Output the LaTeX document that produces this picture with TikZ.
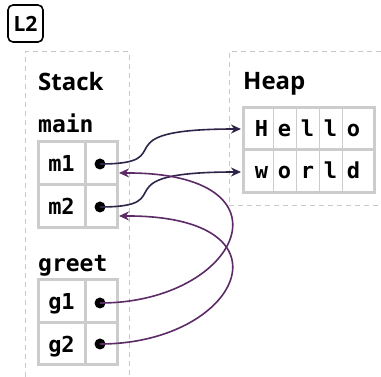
\documentclass[tikz,border=0pt]{standalone}
\usepackage{fontspec}
\setmainfont{Open Sans}
\newfontfamily\codefont{DejaVu Sans Mono Bold}
\usetikzlibrary{arrows.meta}
\definecolor{framec}{HTML}{C8C8C8}
\definecolor{cellb}{HTML}{CCCCCC}
\definecolor{arrA}{HTML}{2E2447}
\definecolor{arrB}{HTML}{5C2A66}
\begin{document}
\begin{tikzpicture}[x=1pt,y=-1pt,
  title/.style={anchor=base west,inner sep=0,font=\bfseries\fontsize{24}{24}\selectfont},
  frm/.style={anchor=base west,inner sep=0,font=\codefont\fontsize{23}{23}\selectfont},
  celltext/.style={anchor=base,inner sep=0,font=\codefont\fontsize{22}{22}\selectfont},
  tbl/.style={draw=cellb,line width=3pt},
  thinline/.style={draw=cellb,line width=1pt},
  frameline/.style={draw=framec,line width=1pt,dash pattern=on 5pt off 4pt},
  ptr/.style={circle,fill=black,inner sep=0,minimum size=11pt},
  arrm/.style={draw=arrA,line width=1.6pt,-{Stealth[length=10pt,width=9pt]}},
  arrg/.style={draw=arrB,line width=1.6pt,-{Stealth[length=10pt,width=9pt]}},
]
\useasboundingbox (0,0) rectangle (381,377);

% label
\node[draw=black,line width=1.6pt,rounded corners=5pt,minimum width=35pt,minimum height=37pt,inner sep=0,
      font=\bfseries\fontsize{21}{21}\selectfont] (lbl) at (25.5,23.5) {L2};

% frames
\draw[frameline] (25,377) -- (25,52) -- (129,52) -- (129,377);
\draw[frameline] (381,52) -- (229,52) -- (229,206) -- (381,206);

% titles
\node[title] (stack) at (38,91) {Stack};
\node[title] (heap) at (243,90) {Heap};
\node[frm] (main) at (38,133) {main};
\node[frm] (greet) at (38,272) {greet};

% main table
\draw[tbl] (38,142) rectangle (117,228);
\draw[tbl] (38,185) -- (117,185);
\draw[tbl] (85,142) -- (85,228);
\node[celltext] (m1) at (61.5,172) {m1};
\node[celltext] (m2) at (61.5,215) {m2};

% greet table
\draw[tbl] (38,280) rectangle (117,365);
\draw[tbl] (38,323) -- (117,323);
\draw[tbl] (85,280) -- (85,365);
\node[celltext] (g1) at (61.5,310) {g1};
\node[celltext] (g2) at (61.5,353) {g2};

% heap table
\foreach \x in {273,296,319,342} \draw[thinline] (\x,108) -- (\x,193);
\draw[tbl] (243,108) rectangle (374,193);
\draw[tbl] (243,150) -- (374,150);
\foreach \c [count=\i from 0] in {H,e,l,l,o}
  \node[celltext] (h\i) at (261.5+23*\i,137) {\c};
\foreach \c [count=\i from 0] in {w,o,r,l,d}
  \node[celltext] (w\i) at (261.5+23*\i,179) {\c};

% targets
\coordinate (hin) at (241,129);
\coordinate (win) at (241,172);
\coordinate (m1in) at (119,173);
\coordinate (m2in) at (119,216);

% pointers
\node[ptr] (m1d) at (100,164) {};
\node[ptr] (m2d) at (100,207) {};
\node[ptr] (g1d) at (100,303) {};
\node[ptr] (g2d) at (100,344) {};

% arrows
\draw[arrm] (m1d.center) .. controls (185,164) and (95,129) .. (hin);
\draw[arrm] (m2d.center) .. controls (185,207) and (95,172) .. (win);
\draw[arrg] (g1d.center) .. controls (240,303) and (300,172) .. (m1in);
\draw[arrg] (g2d.center) .. controls (240,344) and (300,215) .. (m2in);
\end{tikzpicture}
\end{document}
